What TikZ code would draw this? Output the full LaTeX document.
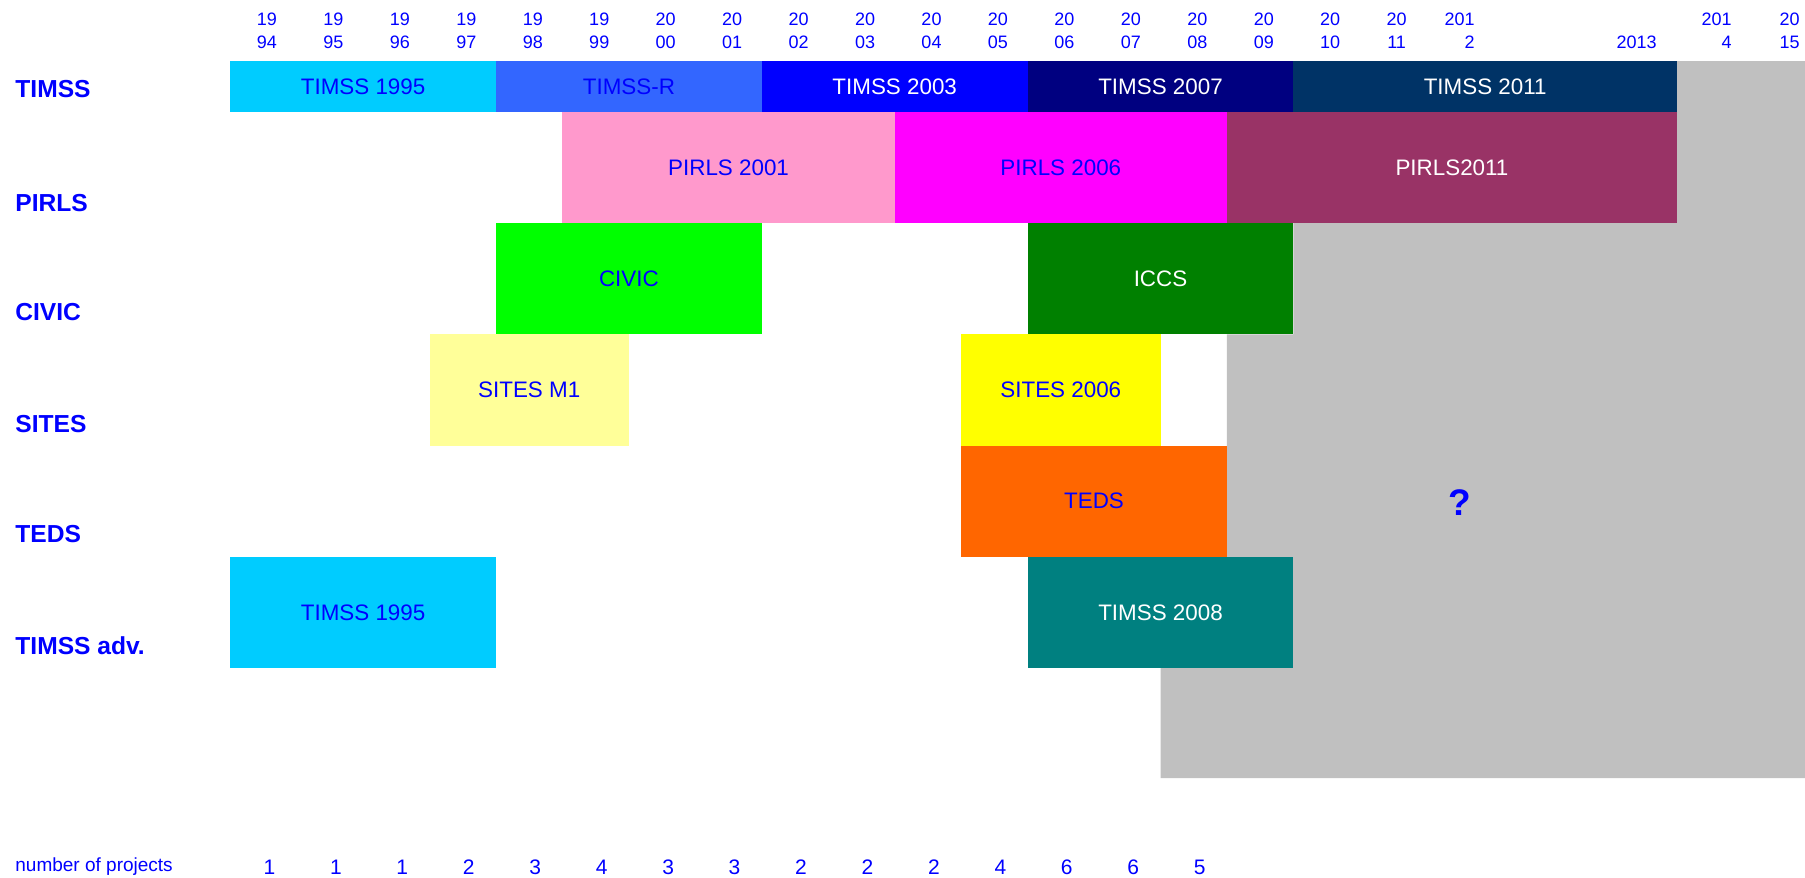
\documentclass[tikz,border=0pt]{standalone}
\usepackage{fontspec}
\setmainfont{Liberation Sans}
\usepackage{tikz}
\usetikzlibrary{positioning}

\definecolor{skyc}{HTML}{00CCFF}
\definecolor{royalc}{HTML}{3366FF}
\definecolor{pureblue}{HTML}{0000FF}
\definecolor{navyc}{HTML}{000080}
\definecolor{deepc}{HTML}{003366}
\definecolor{pinkc}{HTML}{FF99CC}
\definecolor{magc}{HTML}{FF00FF}
\definecolor{plumc}{HTML}{993366}
\definecolor{limec}{HTML}{00FF00}
\definecolor{greenc}{HTML}{008000}
\definecolor{paleyel}{HTML}{FFFF99}
\definecolor{yelc}{HTML}{FFFF00}
\definecolor{orangec}{HTML}{FF6600}
\definecolor{tealc}{HTML}{008080}
\definecolor{grayc}{HTML}{C0C0C0}

\begin{document}
\begin{tikzpicture}[x=0.5pt,y=-0.5pt,
    bar/.style 2 args={rectangle,inner sep=0pt,outer sep=0pt,anchor=north west,
      minimum width=#1*0.5pt,minimum height=#2*0.5pt,
      text=pureblue,font=\fontsize{11.2}{13}\selectfont},
    row label/.style={anchor=west,inner sep=0pt,text=pureblue,
      font=\fontsize{12.3}{14}\selectfont\bfseries},
    year/.style={inner sep=0pt,text=pureblue,align=center,
      font=\fontsize{9}{11.3}\selectfont},
    projnum/.style={inner sep=0pt,text=pureblue,font=\fontsize{10.5}{12}\selectfont}]

  \useasboundingbox (0,0) rectangle (1805,878);

  % open years
  \fill[grayc] (1677,61) -- (1805,61) -- (1805,778) -- (1160.5,778) -- (1160.5,556.8)
    -- (1226.95,556.8) -- (1226.95,334.4) -- (1293.4,334.4) -- (1293.4,223.2)
    -- (1677,223.2) -- cycle;
  \node[text=pureblue,font=\fontsize{18.5}{20}\selectfont\bfseries] (qmark) at (1460,503) {?};

  % years
  \foreach \a/\b [count=\k from 0] in {19/94,19/95,19/96,19/97,19/98,19/99,20/00,20/01,20/02,
      20/03,20/04,20/05,20/06,20/07,20/08,20/09,20/10,20/11}
    \node[year] (y\k) at ({267+66.45*\k},31) {\a\\\b};
  \node[year,anchor=east,align=right] (y18) at (1475,31) {201\\2};
  \node[year,anchor=east] (y19) at (1657,42.5) {2013};
  \node[year,anchor=east,align=right] (y20) at (1732,31) {201\\4};
  \node[year,anchor=east,align=right] (y21) at (1800,31) {20\\15};

  % studies
  \node[row label] (lTIMSS) at (15,88.6) {TIMSS};
  \node[row label] (lPIRLS) at (15,202.6) {PIRLS};
  \node[row label] (lCIVIC) at (15,312) {CIVIC};
  \node[row label] (lSITES) at (15,423.6) {SITES};
  \node[row label] (lTEDS) at (15,534) {TEDS};
  \node[row label] (lADV) at (15,645.8) {TIMSS adv.};

  \node[bar={265.8}{51},fill=skyc] (t95) at (230.2,61) {TIMSS 1995};
  \node[bar={265.8}{51},fill=royalc] (tR) [right=0pt of t95] {TIMSS-R};
  \node[bar={265.8}{51},fill=pureblue,text=white] (t03) [right=0pt of tR] {TIMSS 2003};
  \node[bar={265.8}{51},fill=navyc,text=white] (t07) [right=0pt of t03] {TIMSS 2007};
  \node[bar={383.6}{51},fill=deepc,text=white] (t11) [right=0pt of t07] {TIMSS 2011};

  \node[bar={332.25}{111.2},fill=pinkc] (p01) at (562.45,112) {PIRLS 2001};
  \node[bar={332.25}{111.2},fill=magc] (p06) [right=0pt of p01] {PIRLS 2006};
  \node[bar={450.05}{111.2},fill=plumc,text=white] (p11) [right=0pt of p06] {PIRLS2011};

  \node[bar={265.8}{111.2},fill=limec] (civic) at (496,223.2) {CIVIC};
  \node[bar={265.8}{111.2},fill=greenc,text=white] (iccs) at (1027.6,223.2) {ICCS};

  \node[bar={199.35}{111.2},fill=paleyel] (sm1) at (429.55,334.4) {SITES M1};
  \node[bar={199.35}{111.2},fill=yelc] (s06) at (961.15,334.4) {SITES 2006};

  \node[bar={265.8}{111.2},fill=orangec] (teds) at (961.15,445.6) {TEDS};

  \node[bar={265.8}{111.2},fill=skyc] (a95) at (230.2,556.8) {TIMSS 1995};
  \node[bar={265.8}{111.2},fill=tealc,text=white] (a08) at (1027.6,556.8) {TIMSS 2008};

  % counts
  \node[projnum,anchor=west,font=\fontsize{9.5}{11}\selectfont] (nlabel) at (15,867) {number of projects};
  \foreach \n [count=\k from 0] in {1,1,1,2,3,4,3,3,2,2,2,4,6,6,5}
    \node[projnum] (n\k) at ({269.4+66.45*\k},867) {\n};
\end{tikzpicture}
\end{document}
